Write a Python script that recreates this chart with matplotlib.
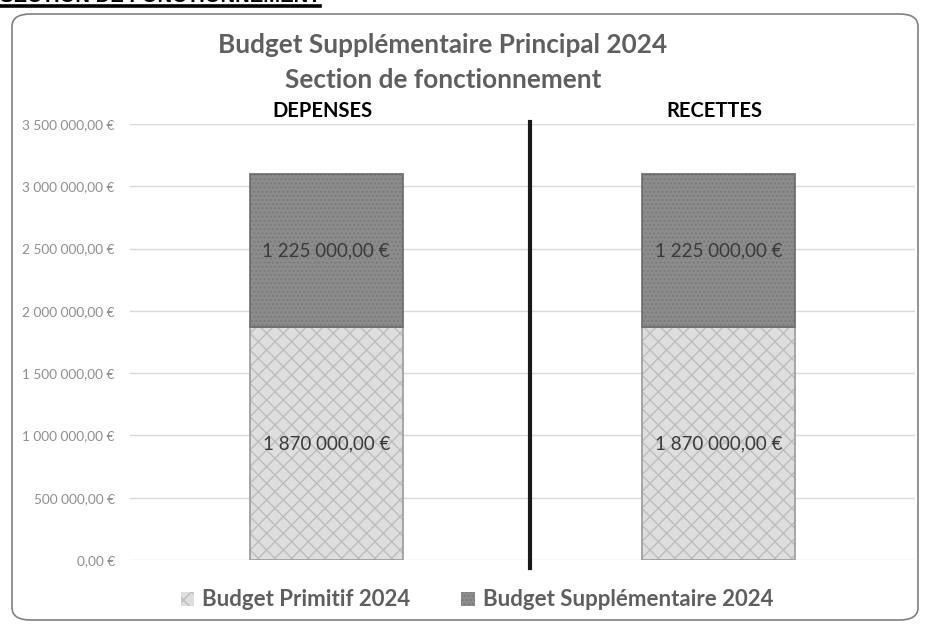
import matplotlib
matplotlib.use("Agg")
import matplotlib.pyplot as plt
from matplotlib.patches import FancyBboxPatch
from matplotlib.ticker import FuncFormatter
import matplotlib.transforms as mtransforms

plt.rcParams['font.family'] = ['Lato', 'DejaVu Sans']
plt.rcParams['hatch.linewidth'] = 1.0

categories = ["DEPENSES", "RECETTES"]
series_names = ["Budget Primitif 2024", "Budget Supplémentaire 2024"]
budget_primitif = [1870000, 1870000]
budget_supplementaire = [1225000, 1225000]
y_ticks = [0, 500000, 1000000, 1500000, 2000000, 2500000, 3000000, 3500000]
title_lines = ["Budget Supplémentaire Principal 2024", "Section de fonctionnement"]
header = "SECTION DE FONCTIONNEMENT"


def fmt_eur(v, pos=None):
    s = f"{v:,.2f}".replace(",", " ").replace(".", ",")
    return s + " €"


W, H = 925, 624
fig = plt.figure(figsize=(W / 100, H / 100), dpi=100)

# outer rounded frame
frame = FancyBboxPatch((12 / W, 4 / H), 906 / W, 606 / H,
                       boxstyle="round,pad=0,rounding_size=0.02",
                       transform=fig.transFigure, facecolor="white",
                       edgecolor="#808080", linewidth=1.2, zorder=-5)
fig.patches.append(frame)

# partially visible header
fig.text(0.0, 1 - 2.5 / H, header, fontsize=14.6, fontweight="bold",
         family=["Liberation Sans", "DejaVu Sans"], color="black",
         ha="left", va="baseline")
fig.add_artist(plt.Line2D([0, 320 / W], [1 - 6 / H, 1 - 6 / H],
                          transform=fig.transFigure, color="black", lw=2.6))

ax = fig.add_axes([130 / W, 64 / H, 785 / W, 436 / H])
ax.set_zorder(2)
ax.patch.set_alpha(0)
x = list(range(len(categories)))
bw = 0.39

b1 = ax.bar(x, budget_primitif, width=bw, color="#dedede", edgecolor="#bdbdbd",
            hatch="xx", linewidth=0, zorder=2, label=series_names[0])
ax.bar(x, budget_primitif, width=bw, fill=False, edgecolor="#9a9a9a",
       linewidth=1.2, zorder=3)
b2 = ax.bar(x, budget_supplementaire, width=bw, bottom=budget_primitif,
            color="#8c8c8c", edgecolor="#7a7a7a", hatch="....", linewidth=0,
            zorder=2, label=series_names[1])
ax.bar(x, budget_supplementaire, width=bw, bottom=budget_primitif, fill=False,
       edgecolor="#6a6a6a", linewidth=1.2, zorder=3)

for i in x:
    ax.text(i, budget_primitif[i] / 2, fmt_eur(budget_primitif[i]),
            ha="center", va="center", fontsize=13.5, color="#3a3a3a", zorder=4)
    ax.text(i, budget_primitif[i] + budget_supplementaire[i] / 2,
            fmt_eur(budget_supplementaire[i]), ha="center", va="center",
            fontsize=13.5, color="#3a3a3a", zorder=4)

ax.set_xlim(-0.5, 1.5)
ax.set_ylim(0, 3500000)
ax.set_yticks(y_ticks)
ax.yaxis.set_major_formatter(FuncFormatter(fmt_eur))
ax.tick_params(axis="y", length=0, labelsize=9.8, labelcolor="#8f8f8f", pad=11)
ax.set_xticks([])
for s in ax.spines.values():
    s.set_visible(False)
ax.grid(axis="y", color="#d9d9d9", linewidth=1, zorder=0)
ax.set_axisbelow(True)

# vertical divider
trans = mtransforms.blended_transform_factory(ax.transData, ax.transAxes)
ax.plot([0.52, 0.52], [-0.018, 1.005], transform=trans, color="#1a1a1a",
        lw=3, clip_on=False, zorder=5)

# category labels above
for i, c in enumerate(categories):
    ax.text(i - 0.01, 1.03, c, transform=trans, ha="center", va="center",
            fontsize=14.5, fontweight="bold", color="black")

# title
fig.text(443 / W, 1 - 45 / H, title_lines[0], ha="center", va="center",
         fontsize=18.8, fontweight="bold", color="#5f5f5f")
fig.text(443 / W, 1 - 80 / H, title_lines[1], ha="center", va="center",
         fontsize=18.8, fontweight="bold", color="#5f5f5f")

leg = fig.legend(handles=[b1, b2], labels=series_names, loc="center",
                 bbox_to_anchor=(477 / W, 24 / H), ncol=2, frameon=False,
                 fontsize=16, handlelength=0.6, handleheight=0.6,
                 handletextpad=0.35, columnspacing=2.3)
for t in leg.get_texts():
    t.set_color("#5f5f5f")
    t.set_fontweight("bold")

fig.savefig("out.png", dpi=100)
